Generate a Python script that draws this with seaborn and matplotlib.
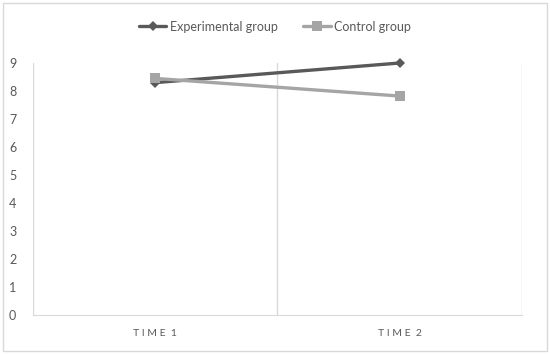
import pandas as pd
import matplotlib.pyplot as plt
import matplotlib.patches as mpatches
import seaborn as sns

sns.set_style("white")
plt.rcParams["font.family"] = ["Lato", "DejaVu Sans"]

# data
times = ["TIME 1", "TIME 2"]
experimental = [8.3, 9.0]
control = [8.45, 7.82]
groups = ["Experimental group", "Control group"]

df = pd.DataFrame({
    "time": times * 2,
    "score": experimental + control,
    "group": [groups[0]] * 2 + [groups[1]] * 2,
})

fig = plt.figure(figsize=(5.5, 3.54), dpi=100)
ax = fig.add_axes([0.06, 0.110, 0.889, 0.712])

sns.lineplot(
    data=df, x="time", y="score", hue="group", style="group",
    hue_order=groups, style_order=groups,
    palette={groups[0]: "#595959", groups[1]: "#A5A5A5"},
    markers={groups[0]: "D", groups[1]: "s"}, dashes=False,
    linewidth=2.4, markersize=7, markeredgewidth=0, ax=ax,
)
# slightly smaller diamond, no clipping at the top
for line in ax.get_lines():
    line.set_clip_on(False)
    if line.get_marker() == "D":
        line.set_markersize(5.5)

ax.set_xlim(-0.5, 1.5)
ax.set_ylim(0, 9)
ax.set_yticks(range(0, 10))
ax.set_xticks([-0.5, 0.5, 1.5], minor=True)
ax.grid(False)
ax.grid(True, which="minor", axis="x", color="#D9D9D9", linewidth=1)
ax.tick_params(which="both", length=0)
ax.tick_params(axis="y", labelsize=9, labelcolor="#595959", pad=12)
ax.tick_params(axis="x", labelsize=7.5, labelcolor="#595959", pad=10)
ax.set_xticklabels(["T I M E  1", "T I M E  2"])
ax.set_xlabel("")
ax.set_ylabel("")
for s in ["top", "right", "left"]:
    ax.spines[s].set_visible(False)
ax.spines["bottom"].set_color("#D9D9D9")

handles, labels = ax.get_legend_handles_labels()
ax.legend_.remove()
fig.legend(handles, labels, loc="center", bbox_to_anchor=(0.5, 0.925), ncol=2,
           frameon=False, fontsize=9, labelcolor="#595959", handlelength=2.2,
           columnspacing=2.0, handletextpad=0.3)

fig.patches.append(mpatches.Rectangle((0.005, 0.008), 0.989, 0.984, transform=fig.transFigure,
                                      fill=False, edgecolor="#D9D9D9", linewidth=1))

fig.savefig("out.png", dpi=100)
